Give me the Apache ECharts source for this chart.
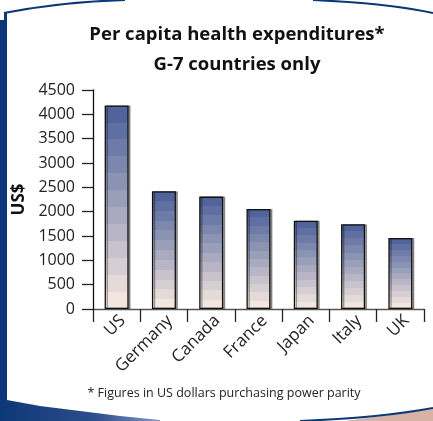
<!DOCTYPE html>
<html><head><meta charset="utf-8">
<script src="https://cdn.jsdelivr.net/npm/echarts@6/dist/echarts.min.js"></script>
<style>html,body{margin:0;padding:0;background:#fff}#c{width:433px;height:421px}</style>
</head><body><div id="c"></div>
<script>
var categories = ['US','Germany','Canada','France','Japan','Italy','UK'];
var values = [4180, 2420, 2310, 2055, 1815, 1740, 1460];
var yTicks = [0,500,1000,1500,2000,2500,3000,3500,4000,4500];

var FONT = '"Open Sans", "Liberation Sans", sans-serif';
function band(a, b, t){
  var pa = [parseInt(a.substr(1,2),16),parseInt(a.substr(3,2),16),parseInt(a.substr(5,2),16)];
  var pb = [parseInt(b.substr(1,2),16),parseInt(b.substr(3,2),16),parseInt(b.substr(5,2),16)];
  return 'rgb(' + pa.map(function(v,i){return Math.round(v+(pb[i]-v)*t);}).join(',') + ')';
}
var stops = [];
var N = 12;
for (var i=0;i<N;i++){
  var c = band('#50639b','#f3e6de', i/(N-1));
  stops.push({offset:i/N, color:c});
  stops.push({offset:(i+1)/N - 0.0001, color:c});
}
var chart = echarts.init(document.getElementById('c'), null, {renderer:'canvas'});
chart.setOption({
  backgroundColor:'#fff',
  animation:false,
  title:{
    text:'Per capita health expenditures*\nG-7 countries only',
    left:232, top:15, textAlign:'center',
    textStyle:{fontFamily:FONT, fontWeight:'bold', fontSize:18.5, lineHeight:30, color:'#111'}
  },
  grid:{left:93, right:9, top:90, bottom:112, containLabel:false},
  xAxis:{
    type:'category', data:categories,
    axisLine:{lineStyle:{color:'#555', width:1.3}},
    axisTick:{show:true, length:13, lineStyle:{color:'#222', width:1.3}},
    axisLabel:{rotate:45, fontFamily:FONT, fontSize:17, color:'#222', margin:3, interval:0, verticalAlign:'top', align:'right'}
  },
  yAxis:{
    type:'value', min:0, max:4500, interval:500,
    name:'US$', nameLocation:'middle', nameGap:64, nameRotate:90,
    nameTextStyle:{fontFamily:FONT, fontWeight:'bold', fontSize:17, color:'#111'},
    axisLine:{show:true, lineStyle:{color:'#111', width:1.3}},
    axisTick:{show:true, length:11, lineStyle:{color:'#222', width:1.3}},
    axisLabel:{fontFamily:FONT, fontSize:16, color:'#222', margin:18,
      formatter:function(v){return yTicks.indexOf(v)>=0? String(v):'';}},
    splitLine:{show:false}
  },
  series:[{
    type:'bar', data:values, barWidth:24,
    itemStyle:{
      color:{type:'linear', x:0,y:0,x2:0,y2:1, colorStops:stops},
      borderColor:'#111', borderWidth:1.3,
      shadowColor:'rgba(0,0,0,0.35)', shadowOffsetX:2, shadowOffsetY:0, shadowBlur:0
    }
  }],
  graphic:[
    {type:'rect', shape:{x:0,y:20,width:7,height:385}, style:{fill:'#0d3877'}, z:10},
    {type:'rect', shape:{x:4,y:12,width:3,height:10}, style:{fill:'#0d3877'}, z:10},
    {type:'bezierCurve', shape:{x1:4,y1:13,x2:125,y2:0,cpx1:50,cpy1:4,cpx2:90,cpy2:1}, style:{stroke:'#0d3877', lineWidth:2, fill:null}, z:10},
    {type:'bezierCurve', shape:{x1:313,y1:0,x2:433,y2:13,cpx1:360,cpy1:2,cpx2:400,cpy2:6}, style:{stroke:'#0d3877', lineWidth:2, fill:null}, z:10},
    {type:'polygon', shape:{points:[[0,390],[7,400],[40,406],[80,411],[120,416],[160,420],[160,421],[0,421]]},
      style:{fill:{type:'linear',x:0,y:0,x2:1,y2:0,colorStops:[{offset:0,color:'#0d3877'},{offset:0.6,color:'#2d4d8c'},{offset:1,color:'#8797c4'}]}}, z:10},
    {type:'polygon', shape:{points:[[345,421],[433,409],[433,421]]}, style:{fill:'#d8b2a4'}, z:10},
    {type:'bezierCurve', shape:{x1:300,y1:421,x2:433,y2:408,cpx1:350,cpy1:419,cpx2:400,cpy2:414}, style:{stroke:'#0d3877', lineWidth:2, fill:null}, z:11},
    {type:'text', z:10, style:{text:'* Figures in US dollars purchasing power parity', font:'12.5px ' + FONT, fill:'#222', textAlign:'center', textVerticalAlign:'middle', x:224, y:393}}
  ]
});
</script></body></html>
